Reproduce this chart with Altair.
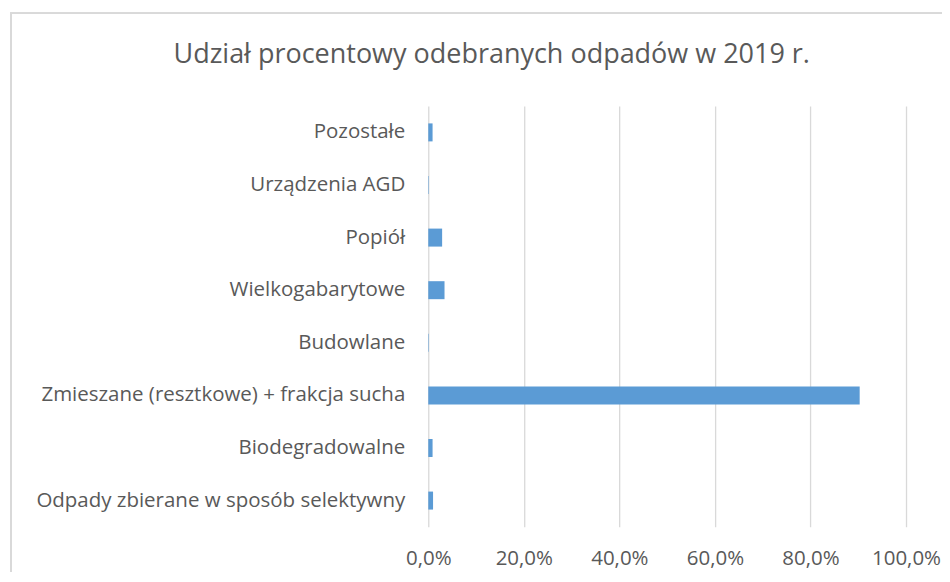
import altair as alt
import pandas as pd

categories = [
    "Pozostałe",
    "Urządzenia AGD",
    "Popiół",
    "Wielkogabarytowe",
    "Budowlane",
    "Zmieszane (resztkowe) + frakcja sucha",
    "Biodegradowalne",
    "Odpady zbierane w sposób selektywny",
]
shares = [0.009, 0.001, 0.029, 0.034, 0.001, 0.903, 0.009, 0.010]
x_ticks = [0, 0.2, 0.4, 0.6, 0.8, 1.0]
title_text = ["Udział procentowy odebranych odpadów w 2019 r."]

df = pd.DataFrame({"kategoria": categories, "udzial": shares})
tdf = pd.DataFrame({"t": title_text})

TEXT = "#595959"
FONT = "Open Sans"

bars = alt.Chart(df).mark_bar(color="#5B9BD5", size=18).encode(
    y=alt.Y(
        "kategoria:N",
        sort=categories,
        scale=alt.Scale(paddingInner=0, paddingOuter=0),
        axis=alt.Axis(
            title=None, domain=False, ticks=False, grid=False,
            labelFontSize=20.5, labelColor=TEXT, labelFont=FONT,
            labelPadding=23.5, labelLimit=500,
        ),
    ),
    x=alt.X(
        "udzial:Q",
        scale=alt.Scale(domain=[0, 1], nice=False),
        axis=alt.Axis(
            title=None, values=x_ticks, domain=False, ticks=False,
            grid=True, gridColor="#d9d9d9", gridWidth=1.3,
            labelExpr="replace(format(datum.value, '.1%'), '.', ',')",
            labelFontSize=20.5, labelColor=TEXT, labelFont=FONT,
            labelPadding=22, labelFlush=False,
        ),
    ),
)

border = alt.Chart(df).mark_rect(
    fill=None, stroke="#d9d9d9", strokeWidth=1.3
).encode(
    x=alt.value(-417.5), x2=alt.value(560),
    y=alt.value(-93), y2=alt.value(520),
)

title = alt.Chart(tdf).mark_text(
    font=FONT, fontSize=27, color=TEXT, align="center", baseline="alphabetic"
).encode(
    text="t:N",
    x=alt.value(63.5),
    y=alt.value(-43),
)

chart = alt.layer(border, bars, title).properties(
    width=478,
    height=421,
    autosize=alt.AutoSizeParams(type="none"),
    padding={"left": 420.5, "top": 98, "right": 36, "bottom": 45},
).configure_view(stroke=None)

chart.save("out.html", embed_options={"renderer": "svg", "actions": False})
